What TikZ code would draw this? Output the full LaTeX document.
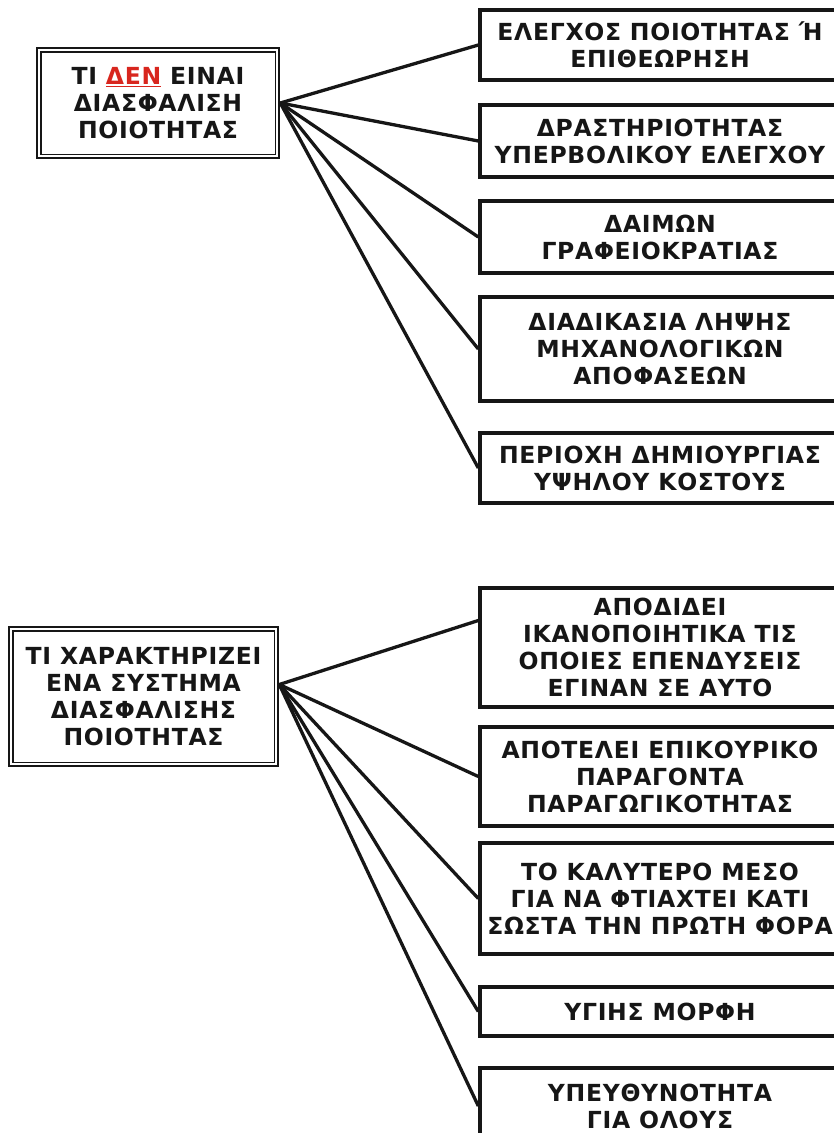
\documentclass[tikz,border=0pt]{standalone}
\usepackage{fontspec}
\setmainfont{DejaVu Sans}
\newfontfamily\boxfont{DejaVu Sans Bold}[LetterSpace=3]
\usetikzlibrary{calc}
\definecolor{ink}{HTML}{161616}
\definecolor{redw}{HTML}{D8261E}
\begin{document}
\begin{tikzpicture}[x=1pt,y=-1pt,
  txt/.style={font=\boxfont\fontsize{23.5}{27}\selectfont, text=ink, align=center, inner sep=0pt},
  rbox/.style={txt, draw=ink, line width=3.4pt, minimum width=360pt, anchor=center},
  lbox/.style={txt, draw=ink, line width=2.6pt, anchor=center},
  conn/.style={draw=ink, line width=3.3pt}]
\useasboundingbox (0,0) rectangle (834,1133);
\fill[white] (0,0) rectangle (834,1133);
\clip (0,0) rectangle (834,1133);

% top section
\node[lbox, minimum width=242pt, minimum height=110pt] (q1) at (158,103)
  {ΤΙ \textcolor{redw}{\underline{ΔΕΝ}} ΕΙΝΑΙ\\ΔΙΑΣΦΑΛΙΣΗ\\ΠΟΙΟΤΗΤΑΣ};
\draw[ink, line width=1.6pt] ($(q1.north west)+(5,5)$) rectangle ($(q1.south east)+(-5,-5)$);

\node[rbox, minimum height=70pt] (a1) at (660,45) {ΕΛΕΓΧΟΣ ΠΟΙΟΤΗΤΑΣ Ή\\ΕΠΙΘΕΩΡΗΣΗ};
\node[rbox, minimum height=72pt] (a2) at (660,141) {ΔΡΑΣΤΗΡΙΟΤΗΤΑΣ\\ΥΠΕΡΒΟΛΙΚΟΥ ΕΛΕΓΧΟΥ};
\node[rbox, minimum height=72pt] (a3) at (660,237) {ΔΑΙΜΩΝ\\ΓΡΑΦΕΙΟΚΡΑΤΙΑΣ};
\node[rbox, minimum height=104pt] (a4) at (660,349) {ΔΙΑΔΙΚΑΣΙΑ ΛΗΨΗΣ\\ΜΗΧΑΝΟΛΟΓΙΚΩΝ\\ΑΠΟΦΑΣΕΩΝ};
\node[rbox, minimum height=70pt] (a5) at (660,468) {ΠΕΡΙΟΧΗ ΔΗΜΙΟΥΡΓΙΑΣ\\ΥΨΗΛΟΥ ΚΟΣΤΟΥΣ};

\coordinate (h1) at (q1.east);
\foreach \n in {a1,a2,a3,a4,a5} \draw[conn] (h1) -- (\n.west);

% bottom section
\node[lbox, minimum width=269pt, minimum height=139pt] (q2) at (143.5,696.5)
  {ΤΙ ΧΑΡΑΚΤΗΡΙΖΕΙ\\ΕΝΑ ΣΥΣΤΗΜΑ\\ΔΙΑΣΦΑΛΙΣΗΣ\\ΠΟΙΟΤΗΤΑΣ};
\draw[ink, line width=1.6pt] ($(q2.north west)+(5,5)$) rectangle ($(q2.south east)+(-5,-5)$);

\node[rbox, minimum height=119pt] (b1) at (660,647.5) {ΑΠΟΔΙΔΕΙ\\ΙΚΑΝΟΠΟΙΗΤΙΚΑ ΤΙΣ\\ΟΠΟΙΕΣ ΕΠΕΝΔΥΣΕΙΣ\\ΕΓΙΝΑΝ ΣΕ ΑΥΤΟ};
\node[rbox, minimum height=99pt] (b2) at (660,776.5) {ΑΠΟΤΕΛΕΙ ΕΠΙΚΟΥΡΙΚΟ\\ΠΑΡΑΓΟΝΤΑ\\ΠΑΡΑΓΩΓΙΚΟΤΗΤΑΣ};
\node[rbox, minimum height=111pt] (b3) at (660,898.5) {ΤΟ ΚΑΛΥΤΕΡΟ ΜΕΣΟ\\ΓΙΑ ΝΑ ΦΤΙΑΧΤΕΙ ΚΑΤΙ\\ΣΩΣΤΑ ΤΗΝ ΠΡΩΤΗ ΦΟΡΑ};
\node[rbox, minimum height=49pt] (b4) at (660,1011.5) {ΥΓΙΗΣ ΜΟΡΦΗ};
\node[rbox, minimum height=76pt] (b5) at (660,1106) {ΥΠΕΥΘΥΝΟΤΗΤΑ\\ΓΙΑ ΟΛΟΥΣ};

\coordinate (h2) at ($(q2.east)+(0,-12)$);
\coordinate (e1) at ($(b1.west)+(0,-27)$);
\draw[conn] (h2) -- (e1);
\foreach \n in {b2,b3,b4,b5} \draw[conn] (h2) -- (\n.west);
\end{tikzpicture}
\end{document}
